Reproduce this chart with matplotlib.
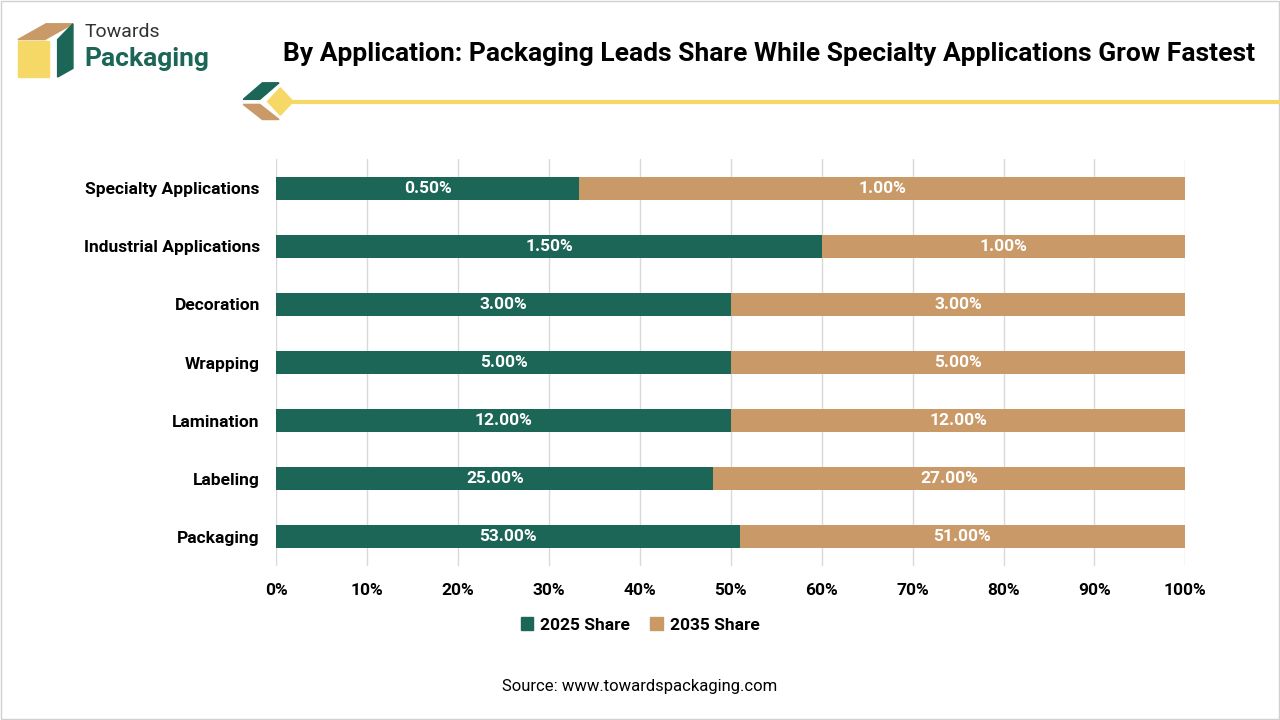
import matplotlib.pyplot as plt
import matplotlib.patches as mpatches
import numpy as np

plt.rcParams['font.family'] = ['Roboto', 'DejaVu Sans']

categories = ["Packaging", "Labeling", "Lamination", "Wrapping", "Decoration",
              "Industrial Applications", "Specialty Applications"]
share_2025 = [53.0, 25.0, 12.0, 5.0, 3.0, 1.5, 0.5]
share_2035 = [51.0, 27.0, 12.0, 5.0, 3.0, 1.0, 1.0]

green = "#1b6656"
tan = "#c99a68"

a = np.array(share_2025)
b = np.array(share_2035)
tot = a + b
pa = a / tot * 100
pb = b / tot * 100

fig = plt.figure(figsize=(12.8, 7.2), dpi=100)
fig.patches.append(mpatches.Rectangle((0.001, 0.001), 0.998, 0.998, transform=fig.transFigure,
                                      fill=False, edgecolor="#d0d0d0", lw=1))

ax = fig.add_axes([0.216, 0.214, 0.71, 0.565])
y = np.arange(len(categories))
ax.barh(y, pa, height=0.4, color=green, zorder=3)
ax.barh(y, pb, left=pa, height=0.4, color=tan, zorder=3)
for i in range(len(categories)):
    ax.text(pa[i] / 2, y[i], f"{a[i]:.2f}%", ha="center", va="center",
            color="white", fontsize=12.5, fontweight="bold", zorder=4)
    ax.text(pa[i] + pb[i] / 2, y[i], f"{b[i]:.2f}%", ha="center", va="center",
            color="white", fontsize=12.5, fontweight="bold", zorder=4)

ax.set_xlim(0, 100)
ax.set_ylim(-0.5, 6.5)
ax.set_xticks(range(0, 101, 10))
ax.set_xticklabels([f"{v}%" for v in range(0, 101, 10)], fontsize=12.5, fontweight="bold")
ax.set_yticks(y)
ax.set_yticklabels(categories, fontsize=12.5, fontweight="bold")
ax.tick_params(length=0, pad=12)
ax.grid(axis="x", color="#d9d9d9", lw=1, zorder=0)
for s in ax.spines.values():
    s.set_visible(False)

handles = [mpatches.Patch(color=green, label="2025 Share"),
           mpatches.Patch(color=tan, label="2035 Share")]
fig.legend(handles=handles, loc="center", bbox_to_anchor=(0.5, 0.132), ncol=2, frameon=False,
           prop={"size": 12.5, "weight": "bold"}, handlelength=0.7, handleheight=0.7,
           columnspacing=1.2, handletextpad=0.4)

fig.text(0.5, 0.047, "Source: www.towardspackaging.com", ha="center", va="center", fontsize=12)

# header
fig.text(0.221, 0.925, "By Application: Packaging Leads Share While Specialty Applications Grow Fastest",
         ha="left", va="center", fontsize=19, fontweight="bold")
fig.add_artist(plt.Line2D([0.225, 1.0], [0.859, 0.859], transform=fig.transFigure,
                          color="#f5d865", lw=3))
fig.patches.append(mpatches.Polygon([[0.19, 0.862], [0.205, 0.885], [0.218, 0.885], [0.203, 0.862]],
                                    closed=True, transform=fig.transFigure, color="#1b6656"))
fig.patches.append(mpatches.Polygon([[0.19, 0.855], [0.203, 0.855], [0.218, 0.834], [0.205, 0.834]],
                                    closed=True, transform=fig.transFigure, color="#c99a68"))
fig.patches.append(mpatches.Polygon([[0.209, 0.859], [0.219, 0.878], [0.229, 0.859], [0.219, 0.840]],
                                    closed=True, transform=fig.transFigure, color="#f5d865"))

# logo
fig.patches.append(mpatches.Polygon([[0.014, 0.945], [0.036, 0.967], [0.057, 0.967], [0.035, 0.945]],
                                    closed=True, transform=fig.transFigure, color="#c99a68"))
fig.patches.append(mpatches.Rectangle((0.014, 0.893), 0.024, 0.05, transform=fig.transFigure,
                                      color="#f5d865"))
fig.patches.append(mpatches.Polygon([[0.045, 0.893], [0.057, 0.905], [0.057, 0.967], [0.045, 0.945]],
                                    closed=True, transform=fig.transFigure, color="#1b6656"))
fig.text(0.066, 0.955, "Towards", fontsize=14, color="#333333", va="center")
fig.text(0.066, 0.918, "Packaging", fontsize=19, color="#1b6656", fontweight="bold", va="center")

fig.savefig("out.png", dpi=100)
